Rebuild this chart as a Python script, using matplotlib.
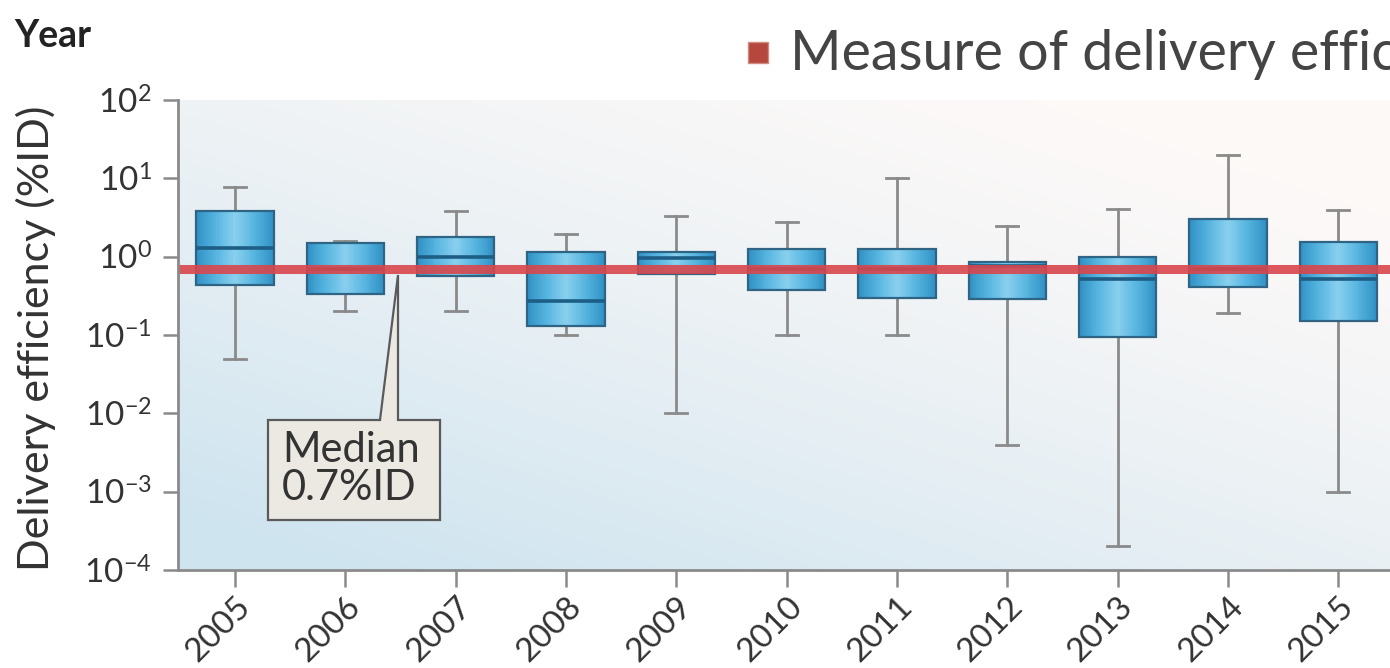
import matplotlib
matplotlib.use("Agg")
import matplotlib.pyplot as plt
import numpy as np
from matplotlib.colors import LinearSegmentedColormap
from matplotlib.patches import Polygon, Rectangle

# box statistics per publication year (%ID, log scale)
YEARS = [2005, 2006, 2007, 2008, 2009, 2010, 2011, 2012, 2013, 2014, 2015]
WHISLO = [0.05, 0.2, 0.2, 0.1, 0.01, 0.1, 0.1, 0.004, 0.0002, 0.19, 0.001]
Q1 = [0.44, 0.33, 0.57, 0.13, 0.6, 0.38, 0.30, 0.29, 0.095, 0.41, 0.15]
MED = [1.3, 0.7, 1.0, 0.27, 0.95, 0.7, 0.7, 0.75, 0.52, 0.7, 0.52]
Q3 = [3.8, 1.5, 1.8, 1.15, 1.15, 1.25, 1.25, 0.85, 1.0, 3.05, 1.55]
WHISHI = [7.7, 1.6, 3.8, 1.95, 3.35, 2.8, 10.0, 2.45, 4.1, 20.0, 3.9]
MEDIAN_ALL = 0.7
YTICKS = [1e-4, 1e-3, 1e-2, 1e-1, 1e0, 1e1, 1e2]
YTICK_LABELS = [r"$\mathregular{10^{-4}}$", r"$\mathregular{10^{-3}}$",
                r"$\mathregular{10^{-2}}$", r"$\mathregular{10^{-1}}$",
                r"$\mathregular{10^{0}}$", r"$\mathregular{10^{1}}$",
                r"$\mathregular{10^{2}}$"]

W, H = 1390, 668
TXT = "#333333"
GREY = "#8a8a8a"
FONT = ["Lato", "DejaVu Sans"]
plt.rcParams["font.family"] = FONT


def fx(px):
    return px / W


def fy(py):
    return 1 - py / H


fig = plt.figure(figsize=(W / 100, H / 100), dpi=100)
ax = fig.add_axes([fx(178), fy(570), fx(1400 - 178), (570 - 100) / H])
ax.set_yscale("log")
ax.set_ylim(1e-4, 1e2)
ax.set_xlim(0.483, 11.56)

# soft blue wash fading to white towards the top right
gx, gy = np.meshgrid(np.linspace(0, 1, 300), np.linspace(0, 1, 200))
w = np.clip(0.55 * (1 - gx) + 0.65 * (1 - gy) - 0.12, 0, 1) ** 1.3
blue = np.array([0.81, 0.895, 0.94])
white = np.array([0.995, 0.978, 0.972])
bg = white[None, None, :] * (1 - w[..., None]) + blue[None, None, :] * w[..., None]
ax.imshow(bg, extent=[0, 1, 0, 1], transform=ax.transAxes, origin="lower",
          aspect="auto", zorder=0, interpolation="bilinear")

positions = np.arange(1, len(YEARS) + 1)
stats = [dict(whislo=a, q1=b, med=c, q3=d, whishi=e, fliers=[])
         for a, b, c, d, e in zip(WHISLO, Q1, MED, Q3, WHISHI)]
bw = 0.7
bp = ax.bxp(stats, positions=positions, widths=bw, capwidths=0.2,
            patch_artist=True, showfliers=False,
            boxprops=dict(facecolor="none", edgecolor="#2f6485", linewidth=1.6, zorder=4),
            whiskerprops=dict(color=GREY, linewidth=2.0, zorder=2),
            capprops=dict(color=GREY, linewidth=2.0, zorder=2),
            medianprops=dict(color="#1d5e86", linewidth=2.6, zorder=4))

# cylinder-like shading inside each box
shade = LinearSegmentedColormap.from_list(
    "shade", ["#3292c5", "#58b6e0", "#89cfee", "#58b6e0", "#3292c5"])
for p, lo, hi in zip(positions, Q1, Q3):
    xs = np.linspace(p - bw / 2, p + bw / 2, 41)
    c = np.linspace(0, 1, 40)[None, :]
    ax.pcolormesh(xs, [lo, hi], c, cmap=shade, shading="flat", zorder=3)

ax.axhline(MEDIAN_ALL, color="#d8464c", linewidth=6.5, alpha=0.9, zorder=5)

for s in ["top", "right"]:
    ax.spines[s].set_visible(False)
for s in ["left", "bottom"]:
    ax.spines[s].set_color(GREY)
    ax.spines[s].set_linewidth(2.0)
    ax.spines[s].set_zorder(6)

ax.set_yticks(YTICKS)
ax.set_yticklabels(YTICK_LABELS)
ax.minorticks_off()
ax.set_xticks(positions)
ax.set_xticklabels([str(y) for y in YEARS], rotation=45, ha="right", va="top",
                   rotation_mode="anchor")
ax.tick_params(axis="y", length=11, width=1.8, color=GREY, labelsize=24,
               labelcolor=TXT, pad=8)
ax.tick_params(axis="x", length=12, width=1.8, color=GREY, labelsize=24,
               labelcolor=TXT, pad=3)

fig.text(fx(36), fy(338), "Delivery efficiency (%ID)", rotation=90,
         ha="center", va="center", fontsize=31, color=TXT)
fig.text(fx(14), fy(36), "Year", ha="left", va="center", fontsize=27,
         fontweight="bold", color="#222222")

# legend entry, running off the right edge
fig.patches.append(Rectangle((fx(748), fy(63)), fx(20), 21 / H,
                             transform=fig.transFigure, facecolor="#b5473f",
                             edgecolor="#d08a80", linewidth=1.0))
fig.text(fx(790), fy(55), "Measure of delivery efficiency", ha="left",
         va="center", fontsize=40, color="#444444")

# callout pointing at the overall median line
call = [(268, 420), (380, 420), (398, 275), (398, 420), (440, 420),
        (440, 520), (268, 520)]
fig.patches.append(Polygon([(fx(x), fy(y)) for x, y in call], closed=True,
                           transform=fig.transFigure, facecolor="#ebe9e2",
                           edgecolor="#5a5a5a", linewidth=1.6, zorder=7))
fig.text(fx(282), fy(469), f"Median\n{MEDIAN_ALL}%ID", ha="left", va="center",
         fontsize=30, color=TXT, linespacing=1.0, zorder=8)

fig.savefig("out.png", dpi=100)
